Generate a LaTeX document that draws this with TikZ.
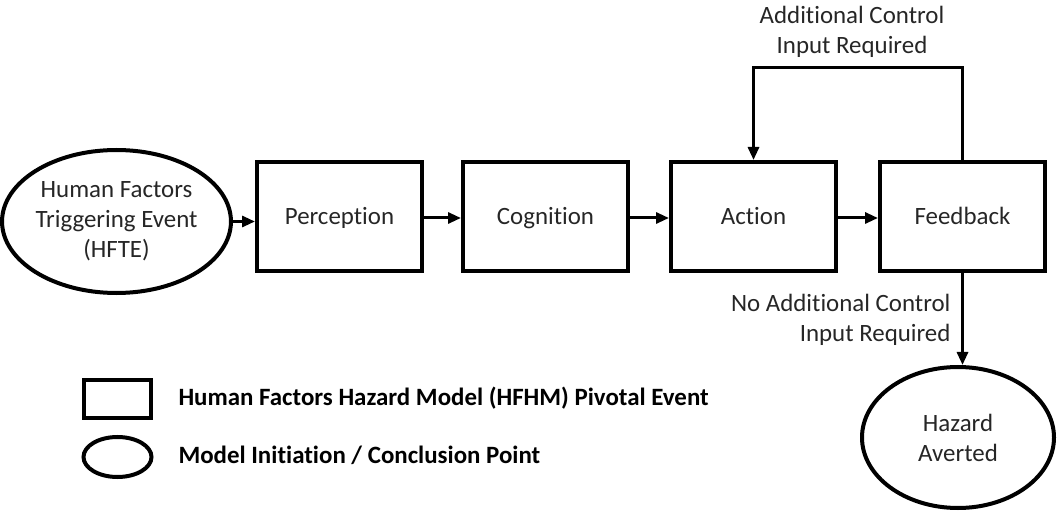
\documentclass[tikz,border=0pt]{standalone}
\usepackage{fontspec}
\setmainfont{Carlito}[Ligatures=NoCommon]
\usetikzlibrary{shapes.geometric,arrows.meta}
\begin{document}
\begin{tikzpicture}[x=1bp,y=-1bp,
  every node/.style={font=\fontsize{25}{30}\selectfont, text=black!85},
  event/.style={draw=black, line width=4bp, rectangle, minimum width=165bp, minimum height=109bp, inner sep=0pt, text height=16bp, text depth=0bp},
  terminal/.style={draw=black, line width=4bp, ellipse, inner sep=0pt, align=center},
  flow/.style={line width=3bp, -{Triangle[length=13bp,width=11bp]}},
  legendtext/.style={anchor=west, font=\fontsize{25}{30}\selectfont\bfseries, text=black}
]
\useasboundingbox (0,0) rectangle (1058,512);

% Main chain of pivotal events
\node[terminal, minimum width=199bp, minimum height=143bp] (hfte) at (116.5,221.5) {Human Factors\\Triggering Event\\(HFTE)};
\node[event] (perc) at (339.5,216.5) {Perception};
\node[event] (cogn) at (545.5,216.5) {Cognition};
\node[event] (act)  at (753.5,216.5) {Action};
\node[event] (fb)   at (962.5,216.5) {Feedback};
\node[terminal, minimum width=192bp, minimum height=141bp] (haz) at (958,437.5) {Hazard\\Averted};

\draw[flow] (hfte.east) -- (hfte.east -| perc.west);
\draw[flow] (perc.east |- 0,218) -- (cogn.west |- 0,218);
\draw[flow] (cogn.east |- 0,218) -- (act.west |- 0,218);
\draw[flow] (act.east |- 0,218) -- (fb.west |- 0,218);

% Feedback loop back to action
\coordinate (looptop) at (0,68);
\draw[flow] (fb.north) -- (fb.north |- looptop) -| (act.north);
\node[align=center] (lblmore) at (852,32) {Additional Control\\Input Required};

% Exit to conclusion point
\draw[flow] (fb.south) -- (fb.south |- haz.north);
\node[anchor=east, align=right] (lbldone) at (954,320) {No Additional Control\\Input Required};

% Legend
\node[draw=black, line width=4bp, rectangle, minimum width=67bp, minimum height=38bp, inner sep=0pt] (legrect) at (117.5,399) {};
\node[draw=black, line width=4bp, ellipse, minimum width=68bp, minimum height=40bp, inner sep=0pt] (legell) at (117.5,457) {};
\node[legendtext] (legrecttxt) at (175,398) {Human Factors Hazard Model (HFHM) Pivotal Event};
\node[legendtext] (legelltxt) at (175,455) {Model Initiation / Conclusion Point};
\end{tikzpicture}
\end{document}
